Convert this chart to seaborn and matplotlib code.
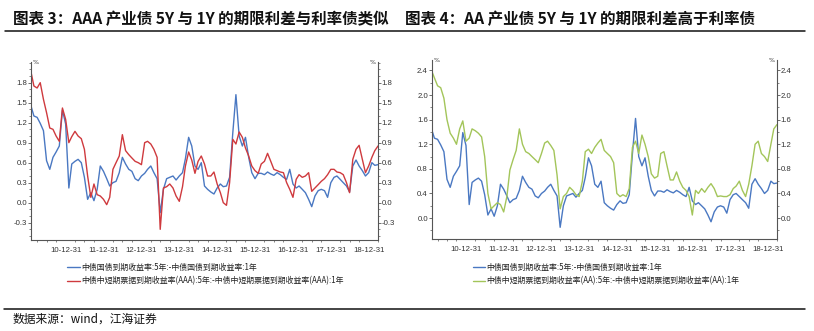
import matplotlib
matplotlib.use("Agg")
import matplotlib.pyplot as plt
from matplotlib.lines import Line2D
from matplotlib.ticker import FixedLocator, MultipleLocator, FormatStrFormatter
from matplotlib import font_manager
import seaborn as sns
import pandas as pd

# ---------------------------------------------------------------- data
# month-end observations, Jan 2010 .. Mar 2019 (term spread 5Y - 1Y, %)
months = pd.date_range("2010-01-31", "2019-03-31", freq="ME")

gov_spread = [1.45, 1.30, 1.28, 1.19, 1.08, 0.63, 0.50, 0.68, 0.76, 0.85,
              1.39, 1.18, 0.22, 0.58, 0.62, 0.65, 0.60, 0.38, 0.05, 0.15,
              0.03, 0.20, 0.55, 0.47, 0.36, 0.25, 0.30, 0.32, 0.45, 0.68,
              0.58, 0.50, 0.47, 0.36, 0.33, 0.40, 0.44, 0.50, 0.55, 0.45,
              0.36, -0.15, 0.20, 0.36, 0.38, 0.40, 0.34, 0.40, 0.45, 0.66,
              0.98, 0.85, 0.55, 0.50, 0.60, 0.25, 0.20, 0.16, 0.13, 0.22,
              0.28, 0.24, 0.25, 0.38, 1.05, 1.62, 1.00, 0.85, 0.98, 0.68,
              0.45, 0.36, 0.44, 0.44, 0.42, 0.46, 0.43, 0.41, 0.45, 0.42,
              0.38, 0.35, 0.50, 0.28, 0.22, 0.25, 0.20, 0.15, 0.05, -0.06,
              0.10, 0.18, 0.20, 0.18, 0.08, 0.30, 0.38, 0.40, 0.35, 0.30,
              0.25, 0.16, 0.55, 0.64, 0.55, 0.48, 0.40, 0.45, 0.60, 0.56,
              0.57]

aaa_spread = [1.96, 1.75, 1.72, 1.80, 1.55, 1.35, 1.12, 1.10, 1.00, 0.92,
              1.42, 1.25, 0.90, 0.99, 1.07, 1.00, 0.96, 0.80, 0.40, 0.08,
              0.28, 0.12, 0.10, 0.05, -0.03, 0.08, 0.50, 0.60, 0.70, 1.02,
              0.78, 0.72, 0.67, 0.62, 0.60, 0.57, 0.90, 0.92, 0.88, 0.80,
              0.68, -0.40, 0.22, 0.24, 0.28, 0.22, 0.10, 0.02, 0.24, 0.55,
              0.76, 0.64, 0.44, 0.62, 0.70, 0.58, 0.40, 0.40, 0.46, 0.28,
              0.15, 0.00, -0.04, 0.30, 0.95, 0.88, 1.06, 0.98, 0.82, 0.70,
              0.55, 0.48, 0.44, 0.58, 0.62, 0.74, 0.62, 0.50, 0.48, 0.46,
              0.45, 0.30, 0.20, 0.08, 0.35, 0.42, 0.38, 0.40, 0.45, 0.17,
              0.22, 0.27, 0.32, 0.36, 0.42, 0.50, 0.50, 0.46, 0.45, 0.42,
              0.30, 0.15, 0.65, 0.80, 0.86, 0.65, 0.45, 0.55, 0.68, 0.78,
              0.85]

aa_spread = [2.40, 2.28, 2.15, 2.12, 1.95, 1.60, 1.38, 1.30, 1.20, 1.45,
             1.58, 1.25, 1.30, 1.45, 1.42, 1.38, 1.32, 1.00, 0.40, 0.15,
             0.20, 0.25, 0.22, 0.10, 0.35, 0.78, 0.95, 1.10, 1.45, 1.20,
             1.08, 1.05, 1.00, 0.95, 0.90, 1.05, 1.22, 1.25, 1.18, 1.10,
             0.70, 0.15, 0.35, 0.40, 0.50, 0.45, 0.38, 0.35, 0.60, 1.08,
             1.12, 1.05, 1.15, 1.22, 1.28, 1.10, 1.05, 1.00, 0.90, 0.40,
             0.35, 0.38, 0.35, 0.48, 1.15, 1.25, 1.05, 1.35, 1.20, 1.00,
             0.72, 0.65, 0.68, 1.05, 1.08, 0.85, 0.62, 0.62, 0.75, 0.60,
             0.50, 0.45, 0.35, 0.05, 0.45, 0.40, 0.48, 0.42, 0.50, 0.56,
             0.48, 0.35, 0.36, 0.35, 0.35, 0.38, 0.48, 0.52, 0.60, 0.45,
             0.35, 0.55, 0.85, 1.20, 1.25, 1.05, 1.00, 0.92, 1.20, 1.45,
             1.52]

year_end_dates = ["2010-12-31", "2011-12-31", "2012-12-31", "2013-12-31", "2014-12-31",
                  "2015-12-31", "2016-12-31", "2017-12-31", "2018-12-31"]
year_end_labels = ["10-12-31", "11-12-31", "12-12-31", "13-12-31", "14-12-31",
                   "15-12-31", "16-12-31", "17-12-31", "18-12-31"]

left_yticks = [-0.3, 0.0, 0.3, 0.6, 0.9, 1.2, 1.5, 1.8]
right_yticks = [0.0, 0.4, 0.8, 1.2, 1.6, 2.0, 2.4]

label_gov = "中债国债到期收益率:5年:-中债国债到期收益率:1年"
label_aaa = "中债中短期票据到期收益率(AAA):5年:-中债中短期票据到期收益率(AAA):1年"
label_aa = "中债中短期票据到期收益率(AA):5年:-中债中短期票据到期收益率(AA):1年"

title_left = "图表 3：AAA 产业债 5Y 与 1Y 的期限利差与利率债类似"
title_right = "图表 4：AA 产业债 5Y 与 1Y 的期限利差高于利率债"
source_text = "数据来源：wind，江海证券"

# ---------------------------------------------------------------- style
sns.set_theme(style="white")
plt.rcParams["font.family"] = ["Noto Sans CJK SC", "DejaVu Sans"]
plt.rcParams["axes.unicode_minus"] = False

installed = {f.name for f in font_manager.fontManager.ttflist}
tick_family = "Liberation Sans Narrow" if "Liberation Sans Narrow" in installed else "Liberation Sans"

BLUE = "#4a78c2"
RED = "#cf3a3e"
GREEN = "#a3c55a"
SPINE = "#555555"

W, H = 814, 331
fig = plt.figure(figsize=(W / 100, H / 100), dpi=100)
fig.patch.set_facecolor("white")


def px_box(x0, y0, x1, y1):
    return [x0 / W, 1 - y1 / H, (x1 - x0) / W, (y1 - y0) / H]


def style_axis(ax, yticks, ymin, ymax, minor_step):
    ax.set_facecolor("white")
    ax.set_xlim(months[0], months[-1])
    ax.set_ylim(ymin, ymax)
    for side in ("left", "right", "bottom"):
        ax.spines[side].set_visible(True)
        ax.spines[side].set_color(SPINE)
        ax.spines[side].set_linewidth(0.8)
    ax.spines["top"].set_visible(False)
    ax.grid(False)

    ax.xaxis.set_major_locator(FixedLocator(pd.to_datetime(year_end_dates).map(
        lambda d: matplotlib.dates.date2num(d))))
    ax.set_xticklabels(year_end_labels)
    quarter_ends = pd.date_range("2010-03-31", "2019-03-31", freq="QE")
    ax.xaxis.set_minor_locator(FixedLocator([matplotlib.dates.date2num(d) for d in quarter_ends]))

    ax.set_yticks(yticks)
    ax.yaxis.set_major_formatter(FormatStrFormatter("%.1f"))
    ax.yaxis.set_minor_locator(MultipleLocator(minor_step))

    ax.tick_params(axis="x", which="major", direction="out", length=2.5, width=0.6,
                   color=SPINE, pad=2.5, labelsize=5.6, labelcolor="#333333")
    ax.tick_params(axis="x", which="minor", direction="out", length=1.5, width=0.5,
                   color=SPINE, bottom=True)
    ax.tick_params(axis="y", which="major", direction="out", length=2.0, width=0.6,
                   color=SPINE, pad=0.6, labelsize=5.6, labelcolor="#333333",
                   left=True, right=True, labelleft=True, labelright=True)
    ax.tick_params(axis="y", which="minor", direction="out", length=1.2, width=0.5,
                   color=SPINE, left=True, right=True)
    for lab in ax.get_xticklabels() + ax.get_yticklabels():
        lab.set_family(tick_family)
    ax.set_xlabel("")
    ax.set_ylabel("")
    ax.text(0.006, 1.0, "%", transform=ax.transAxes, ha="left", va="center",
            fontsize=4.5, color="#333333", family="DejaVu Sans")
    ax.text(0.994, 1.0, "%", transform=ax.transAxes, ha="right", va="center",
            fontsize=4.5, color="#333333", family="DejaVu Sans")


# ---------------------------------------------------------------- left panel
ax1 = fig.add_axes(px_box(31, 62, 378, 240))
sns.lineplot(x=months, y=gov_spread, ax=ax1, color=BLUE, linewidth=1.0, label=label_gov)
sns.lineplot(x=months, y=aaa_spread, ax=ax1, color=RED, linewidth=1.0, label=label_aaa)
style_axis(ax1, left_yticks, -0.56, 2.11, 0.1)
ax1.legend(loc="upper left", bbox_to_anchor=(67 / W, 1 - 263 / H), bbox_transform=fig.transFigure,
           frameon=False, fontsize=5.7, handlelength=1.65, handletextpad=0.15,
           labelspacing=0.55, borderpad=0, borderaxespad=0, labelcolor="#222222")

# ---------------------------------------------------------------- right panel
ax2 = fig.add_axes(px_box(431.5, 60, 777, 239))
sns.lineplot(x=months, y=gov_spread, ax=ax2, color=BLUE, linewidth=1.0, label=label_gov)
sns.lineplot(x=months, y=aa_spread, ax=ax2, color=GREEN, linewidth=1.0, label=label_aa)
style_axis(ax2, right_yticks, -0.34, 2.57, 0.2)
ax2.legend(loc="upper left", bbox_to_anchor=(473 / W, 1 - 263 / H), bbox_transform=fig.transFigure,
           frameon=False, fontsize=5.7, handlelength=1.55, handletextpad=0.15,
           labelspacing=0.55, borderpad=0, borderaxespad=0, labelcolor="#222222")

# ---------------------------------------------------------------- titles and footer
fig.text(13 / W, 1 - 19.5 / H, title_left, ha="left", va="center",
         fontsize=11.2, fontweight="bold", color="#111111")
fig.text(405 / W, 1 - 19.5 / H, title_right, ha="left", va="center",
         fontsize=11.2, fontweight="bold", color="#111111")
fig.add_artist(Line2D([5 / W, 805 / W], [1 - 31 / H, 1 - 31 / H], color="#111111", linewidth=1.1))
fig.add_artist(Line2D([4 / W, 805 / W], [1 - 309 / H, 1 - 309 / H], color="#111111", linewidth=1.1))
fig.text(13 / W, 1 - 319 / H, source_text, ha="left", va="center",
         fontsize=8.5, color="#111111")

fig.savefig("out.png", dpi=100, facecolor="white")
